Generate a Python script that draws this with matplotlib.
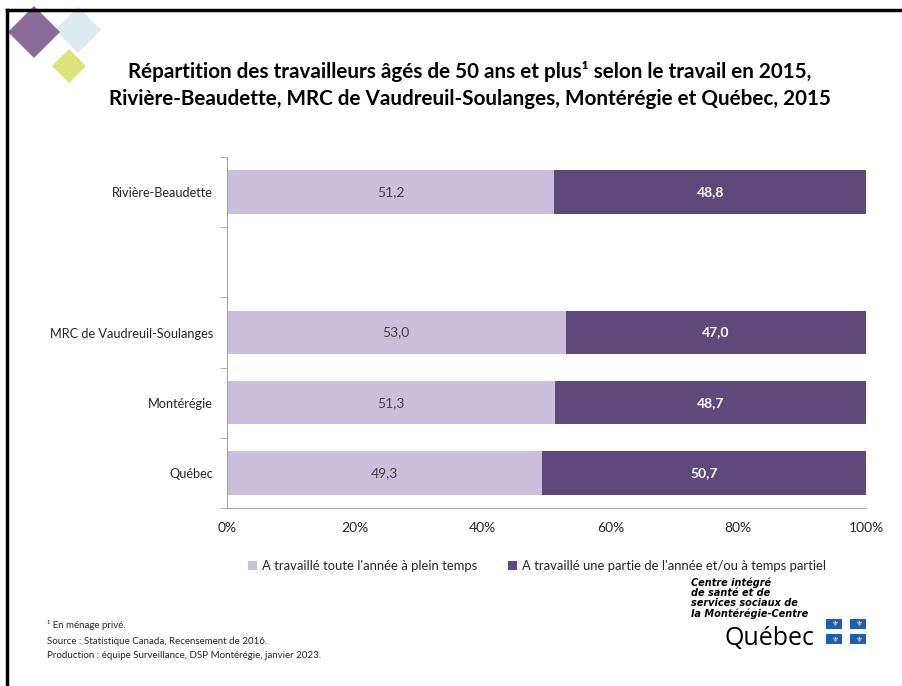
import matplotlib
matplotlib.use("Agg")
import matplotlib.pyplot as plt
from matplotlib.patches import Rectangle, Polygon
import numpy as np

plt.rcParams['font.family'] = ['Lato', 'DejaVu Sans']

categories = ["Rivière-Beaudette", "", "MRC de Vaudreuil-Soulanges", "Montérégie", "Québec"]
full_time = [51.2, None, 53.0, 51.3, 49.3]
part_time = [48.8, None, 47.0, 48.7, 50.7]
series_names = ["A travaillé toute l'année à plein temps",
                "A travaillé une partie de l'année et/ou à temps partiel"]
xticks = [0, 20, 40, 60, 80, 100]
xtick_labels = ["0%", "20%", "40%", "60%", "80%", "100%"]

c_light = "#cbbfdc"
c_dark = "#5f497a"

fig = plt.figure(figsize=(9.02, 6.86), dpi=100)
W, H = 902, 686

def fx(x): return x / W
def fy(y): return 1 - y / H

# border
fig.add_artist(plt.Line2D([fx(7), fx(7)], [fy(10), 0], color="black", lw=2.5, transform=fig.transFigure))
fig.add_artist(plt.Line2D([fx(7), 1], [fy(10), fy(10)], color="black", lw=2.5, transform=fig.transFigure))

# decorative diamonds
def diamond(cx, cy, r, color, alpha=1.0):
    pts = [(fx(cx), fy(cy - r)), (fx(cx + r), fy(cy)), (fx(cx), fy(cy + r)), (fx(cx - r), fy(cy))]
    fig.add_artist(Polygon(pts, closed=True, facecolor=color, edgecolor="none", alpha=alpha, transform=fig.transFigure))

diamond(78, 30, 23, "#dcebf2")
diamond(34, 32, 26, "#8b6b97")
diamond(69, 66, 17, "#dde37c")

ax = fig.add_axes([fx(227), fy(508), fx(866) - fx(227), fy(157) - fy(508)])
y = np.arange(len(categories))
for i in range(len(categories)):
    if full_time[i] is None:
        continue
    ax.barh(y[i], full_time[i], height=0.62, color=c_light, label=series_names[0] if i == 0 else None)
    ax.barh(y[i], part_time[i], left=full_time[i], height=0.62, color=c_dark, label=series_names[1] if i == 0 else None)
    ax.text(full_time[i] / 2, y[i], f"{full_time[i]:.1f}".replace(".", ","), ha="center", va="center",
            fontsize=10, color="#404040")
    ax.text(full_time[i] + part_time[i] / 2, y[i], f"{part_time[i]:.1f}".replace(".", ","), ha="center", va="center",
            fontsize=10, color="white", fontweight="bold")

ax.set_ylim(len(categories) - 0.5, -0.5)
ax.set_xlim(0, 100)
ax.set_yticks(y)
ax.set_yticklabels(categories, fontsize=9.2, color="#262626")
ax.set_yticks(np.arange(-0.5, len(categories), 1), minor=True)
ax.tick_params(axis="y", which="major", length=0, pad=10)
ax.tick_params(axis="y", which="minor", length=5, color="#a6a6a6")
ax.set_xticks(xticks)
ax.set_xticklabels(xtick_labels, fontsize=10, color="#262626")
ax.tick_params(axis="x", length=0, pad=10)
for s in ["top", "right"]:
    ax.spines[s].set_visible(False)
for s in ["left", "bottom"]:
    ax.spines[s].set_color("#a6a6a6")

h, l = ax.get_legend_handles_labels()
fig.legend(h, l, loc="center", bbox_to_anchor=(fx(537), fy(566)), ncol=2, frameon=False,
           fontsize=9.4, handlelength=0.7, handleheight=0.7, handletextpad=0.4, columnspacing=2.3,
           labelcolor="#262626")

fig.text(fx(470), fy(72), "Répartition des travailleurs âgés de 50 ans et plus¹ selon le travail en 2015,",
         ha="center", va="center", fontsize=14.9, fontweight="bold", color="black")
fig.text(fx(470), fy(99), "Rivière-Beaudette, MRC de Vaudreuil-Soulanges, Montérégie et Québec, 2015",
         ha="center", va="center", fontsize=14.9, fontweight="bold", color="black")

fig.text(fx(47), fy(625), "¹ En ménage privé.", fontsize=7, va="center", color="#262626")
fig.text(fx(47), fy(641), "Source : Statistique Canada, Recensement de 2016.", fontsize=7, va="center", color="#262626")
fig.text(fx(47), fy(655), "Production : équipe Surveillance, DSP Montérégie, janvier 2023.", fontsize=7, va="center", color="#262626")

# logo
for k, line in enumerate(["Centre intégré", "de santé et de", "services sociaux de", "la Montérégie-Centre"]):
    fig.text(fx(691), fy(583 + k * 10.2), line, fontsize=7.0, fontstyle="italic", fontweight="bold",
             va="center", ha="left", family=["DejaVu Sans"], color="black")
fig.text(fx(814), fy(645), "Québec", fontsize=18, ha="right", va="baseline", family=["Open Sans", "DejaVu Sans"],
         color="black")
for (cx, cy) in [(834, 624), (858, 624), (834, 639), (858, 639)]:
    fig.add_artist(Rectangle((fx(cx - 8), fy(cy + 5)), fx(16), 10 / H, facecolor="#1f5fa8",
                             edgecolor="none", transform=fig.transFigure))
    fig.text(fx(cx), fy(cy), "⚜", fontsize=5.5, color="white", ha="center", va="center", family=["DejaVu Sans"])

fig.savefig("out.png", dpi=100)
